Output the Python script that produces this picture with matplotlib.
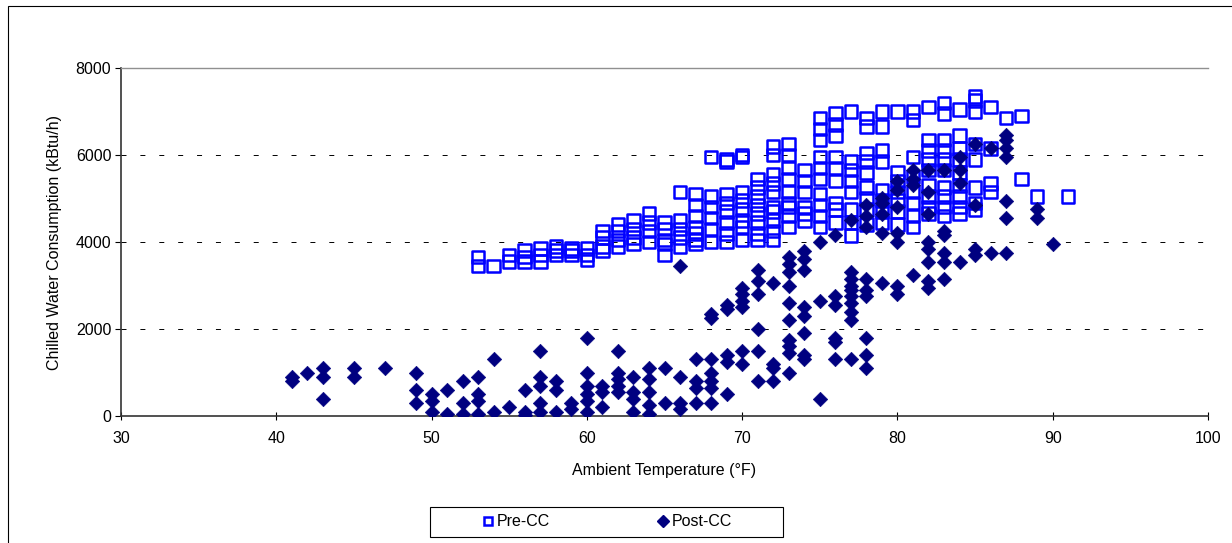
import numpy as np
import matplotlib
matplotlib.use("Agg")
import matplotlib.pyplot as plt
from matplotlib.lines import Line2D
from matplotlib.patches import Rectangle

plt.rcParams['font.family'] = ['Liberation Sans', 'DejaVu Sans']
plt.rcParams['lines.scale_dashes'] = False

# Pre-CC readings, grouped by ambient temperature (F)
pre_temps = [53, 54, 55, 56, 57, 58, 59, 60, 61, 62, 63, 64, 65, 66, 67, 68, 69, 70,
             71, 72, 73, 74, 75, 76, 77, 78, 79, 80, 81, 82, 83, 84, 85, 86, 87, 88, 89, 91]
pre_kbtu = [
    [3650, 3450], [3450], [3700, 3550], [3800, 3650, 3550], [3850, 3700, 3550],
    [3900, 3800, 3700], [3850, 3800, 3700], [3850, 3700, 3600],
    [4250, 4100, 3900, 3800], [4400, 4250, 4050, 3900], [4500, 4300, 4100, 3950],
    [4650, 4450, 4250, 4000], [4450, 4300, 4050, 3950, 3700],
    [5150, 4500, 4300, 4100, 3900], [5100, 4850, 4600, 4350, 4200, 4050, 3950],
    [5950, 5050, 4800, 4550, 4300, 4000],
    [5900, 5850, 5100, 4900, 4700, 4450, 4200, 4000],
    [6000, 5950, 5150, 4950, 4750, 4500, 4350, 4050],
    [5450, 5250, 5050, 4850, 4650, 4450, 4200, 4050],
    [6200, 6000, 5550, 5350, 5150, 4800, 4700, 4500, 4250, 4050],
    [6250, 6000, 5700, 5450, 5150, 4900, 4800, 4600, 4350],
    [5650, 5400, 5150, 4800, 4650, 4500],
    [6850, 6600, 6350, 5950, 5700, 5450, 5100, 4850, 4600, 4350],
    [6950, 6700, 6450, 5950, 5700, 5400, 4900, 4750, 4450],
    [7000, 5850, 5650, 5400, 5150, 4750, 4450, 4150],
    [6850, 6650, 6050, 5850, 5600, 5250, 5000, 4750, 4400],
    [7000, 6650, 6100, 5850, 5200, 4950, 4700, 4450],
    [7000, 5600, 5400, 5150, 4950, 4700, 4400],
    [7000, 6800, 5950, 5500, 5150, 4900, 4600, 4350],
    [7100, 6350, 6100, 5900, 5650, 5300, 5050, 4800, 4650],
    [7200, 6950, 6350, 6100, 5900, 5650, 5250, 5050, 4800, 4600],
    [7050, 6450, 6150, 5900, 5600, 5300, 5050, 4800, 4650],
    [7350, 7250, 7000, 6250, 5900, 5250, 4900, 4750],
    [7100, 6150, 5350, 5150], [6850], [6900, 5450], [5050], [5050],
]

# Post-CC readings
post_temps = [41, 42, 43, 45, 47, 49, 50, 51, 52, 53, 54, 55, 56, 57, 58, 59, 60, 61, 62,
              63, 64, 65, 66, 67, 68, 69, 70, 71, 72, 73, 74, 75, 76, 77, 78, 79, 80, 81,
              82, 83, 84, 85, 86, 87, 89, 90]
post_kbtu = [
    [900, 800], [1000], [1100, 900, 400], [1100, 900], [1100], [1000, 600, 300],
    [500, 350, 100], [600, 50], [800, 300, 50], [900, 500, 350, 50], [1300, 100],
    [200], [600, 100, 20], [1500, 900, 700, 300, 100], [800, 600, 100], [300, 150],
    [1800, 1000, 700, 500, 350, 100], [700, 550, 200], [1500, 1000, 850, 700, 550],
    [900, 550, 400, 100], [1100, 850, 550, 250, 50], [1100, 300],
    [3450, 900, 300, 150], [1300, 800, 650, 300],
    [2350, 2250, 1300, 1000, 800, 650, 300], [2550, 2450, 1400, 1250, 500],
    [2950, 2800, 2650, 2500, 1500, 1200], [3350, 3100, 2800, 2000, 1500, 800],
    [3050, 1200, 1100, 800],
    [3650, 3500, 3300, 3000, 2600, 2200, 1750, 1600, 1450, 1000],
    [3800, 3600, 3350, 2500, 2300, 1900, 1400, 1300], [4000, 2650, 400],
    [4150, 2750, 2550, 1800, 1700, 1300],
    [4500, 3300, 3150, 3000, 2900, 2750, 2600, 2400, 2200, 1300],
    [4850, 4600, 4350, 3150, 2900, 2750, 1800, 1400, 1100],
    [5000, 4900, 4650, 4200, 3050], [5400, 5200, 4800, 4200, 4000, 3000, 2800],
    [5650, 5450, 5300, 3250], [5650, 5150, 4650, 4000, 3850, 3550, 3100, 2950],
    [5650, 4250, 4150, 3750, 3550, 3150], [5950, 5650, 5350, 3550],
    [6250, 4850, 3850, 3700], [6150, 3750],
    [6450, 6350, 6150, 5950, 4950, 4550, 3750], [4750, 4550], [3950],
]

pre_x = np.repeat(pre_temps, [len(v) for v in pre_kbtu])
pre_y = np.concatenate(pre_kbtu)
post_x = np.repeat(post_temps, [len(v) for v in post_kbtu])
post_y = np.concatenate(post_kbtu)

W, H = 1232, 543
fig = plt.figure(figsize=(W / 100, H / 100), dpi=100)
ax = fig.add_axes([121 / W, 1 - 416 / H, (1208 - 121) / W, 348 / H])

ax.scatter(pre_x, pre_y, marker='s', s=9.0 ** 2, facecolors='none',
           edgecolors='#0000ff', linewidths=1.8, zorder=3)
ax.scatter(post_x, post_y, marker='D', s=7.4 ** 2, color='#000080',
           linewidths=0.4, zorder=4)

ax.set_xlim(30, 100)
ax.set_ylim(0, 8000)
ax.set_xticks(range(30, 101, 10))
ax.set_yticks(range(0, 8001, 2000))
ax.grid(axis='y', color='black', linewidth=0.7, linestyle=(0, (3.6, 10)))
ax.set_axisbelow(True)

ax.spines['right'].set_visible(False)
ax.spines['top'].set_color('#909090')
ax.spines['top'].set_linewidth(1.0)
for s in ('left', 'bottom'):
    ax.spines[s].set_color('#333333')
    ax.spines[s].set_linewidth(1.2)

ax.tick_params(axis='y', direction='out', length=4, width=0.8, pad=3, labelsize=11.5)
ax.tick_params(axis='x', direction='inout', length=6, width=0.8, pad=8, labelsize=11.5)

ax.set_xlabel('Ambient Temperature (°F)', fontsize=11.5, labelpad=12)
ax.set_ylabel('Chilled Water Consumption (kBtu/h)', fontsize=11.5, labelpad=10)

# outer chart border (extends off the right/bottom edges)
fig.add_artist(Rectangle((8 / W, -0.1), 2, 1 - 6 / H + 0.1, transform=fig.transFigure,
                         fill=False, edgecolor='black', linewidth=0.8, clip_on=False))

# legend with a plain box
fig.add_artist(Rectangle((430 / W, 1 - 537 / H), 353 / W, 30 / H, transform=fig.transFigure,
                         fill=True, facecolor='white', edgecolor='black', linewidth=0.8))
handles = [
    Line2D([], [], linestyle='none', marker='s', markersize=6.2, markerfacecolor='none',
           markeredgecolor='#0000ff', markeredgewidth=1.8),
    Line2D([], [], linestyle='none', marker='D', markersize=6.3, color='#000080'),
]
fig.legend(handles, ['Pre-CC', 'Post-CC'], loc='center',
           bbox_to_anchor=(607 / W, 1 - 522 / H), ncol=2, frameon=False,
           fontsize=11.5, handlelength=0.7, handletextpad=0.2, columnspacing=6.7,
           borderpad=0, borderaxespad=0)

fig.savefig('out.png', dpi=100)
